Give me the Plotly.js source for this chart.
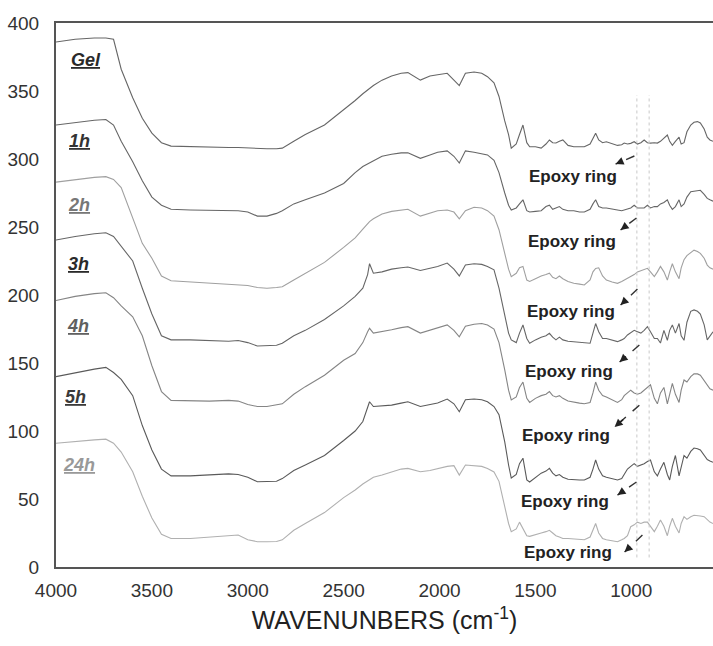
<!DOCTYPE html>
<html>
<head>
<meta charset="utf-8">
<script src="https://cdn.plot.ly/plotly-3.0.1.min.js"></script>
<style>html,body{margin:0;padding:0;background:#fff;}#chart{width:713px;height:646px;}</style>
</head>
<body>
<div id="chart"></div>
<script>
// Wavenumber grid (cm-1)
const wavenumbers = [4000,3900,3800,3740,3700,3660,3600,3550,3500,3450,
 3400,3300,3200,3100,3050,3000,2950,2900,2850,2820,
 2760,2700,2600,2500,2440,2400,2375,2365,2345,2300,
 2250,2200,2165,2100,2050,2010,1960,1925,1897,1865,
 1820,1780,1750,1716,1690,1660,1640,1626,1600,1583,
 1565,1545,1530,1500,1470,1445,1427,1410,1393,1375,
 1357,1330,1300,1270,1245,1215,1200,1186,1170,1150,
 1130,1100,1072,1050,1037,1020,1003,985,968,950,
 933,916,900,880,864,848,830,812,800,786,
 770,751,740,725,710,690,673,655,640,620,
 604,590,574];

const gel = [386,388,389,389,388,366,345,330,319,312,
 309.5,309,309,308.5,308.5,308,307.5,307.5,307.5,308,
 313,318,325,336,343,348,351,352,354,358,
 361,363,363.5,358,361,362,363,358,354,363,
 364,363,360.5,356,346,328,318,308,311,318,
 325,312,309,309,308,311,314,312,311.8,313,
 314,310,309,309,309,311,315,319,314,312,
 312.7,311,310,310.5,311.7,311,311.5,312.7,311,312,
 314,312,311.7,312,311.7,313,315,317.6,313,310,
 313,316,311,312,320,325,327,327.5,326.5,322,
 316,314,313];

const h1 = [325,327,328.5,329,325,313,298,284,272,266,
 263,262.5,262.5,262.5,262,261,258,258,260,262,
 267,270,275,282,290,294.5,296.5,297,299,302,
 303.5,304.5,304.6,300.5,303,305,306,302,297,306,
 305,304,303,299,290,275,266,262.5,264,267,
 270,262,261,261.5,262,265,266,263,264,265,
 263,262,262,261,261,263,267,270,265,264,
 264,263,262.5,262,262.5,263,264,266,264,264,
 264,266,264,265,265,267,268,270,266,263,
 265,270,265,267,272,276,276.5,277,277,274,
 271,270,269];

const h2 = [283,285,286.5,287,285,279,257,238,227,214,
 210.5,209.5,208.5,208,207.5,207,205.5,205,205.5,206,
 211,216,224,235,242,248.5,252,254,256,259.5,
 261.5,262.5,263,258,260.5,262,262.5,261,256,262,
 264.5,264,262,258,248,230,219,213.5,216,220,
 221,211,210,212,214,215,216,213,212,214,
 212,210,208.6,208,207.4,211,217,219.5,220,214,
 211,209.5,208.6,210,211,212,213.5,215,217,218,
 219,219.6,217,213.5,217,221,217,211,217,223,
 217,212,220,226,229,231,233,232,230.6,227,
 222,220,219];

const h3 = [240.4,243,245,245.8,243,236,225,205,186,170,
 167,167,166.5,166,166.5,165,162.5,162.5,163,164.5,
 170,174,182,192,199,205,215,223,216,217,
 219,220,220.6,218,219.5,221,223.5,219,214,222,
 223,222.5,221,218.5,205,185,172,167,165,172,
 178,168,164.5,167,169,170,171.8,169,167,169,
 167,166,165.7,165.5,165,164.5,172,179,173,168,
 168,167,165.7,167,168,170.6,172,174,173,172,
 174,176.7,173,168,168,164.7,174,166.7,174,178,
 172,179,170,166.7,180,188,189,188,186,178,
 167,170,173];

const h4 = [196,199,201,201.7,198,192,184,170,148,129,
 122.5,122,122,122.5,122,119.5,118,118,119,120,
 127,132.6,141,152,157,165,173,175.5,172,173,
 174.5,176,176.7,172,174,175.5,178,174,169.3,177,
 178.5,179,178,175,165,145,130,122.8,125,132,
 136,124,121,124,126,127,129,126,125,126,
 124,122,121,120.5,120,121,128,136,130,126,
 125,123,121,123,126,128,130,128,127,128,
 130,132,134,124,120,128,132,120,126,135,
 127,121,130,137.5,136,140,142,142,141,137,
 133,131,130];

const h5 = [140,143,145.5,146.8,143,138,126,104,86,72,
 67,67,67.5,68.5,68,66,62.7,62.7,63,65,
 71,75,82,93,100,107,118,121.5,118,118.3,
 119,120.5,121.5,118,119.5,120.6,123.5,120,114.2,123,
 123.5,123,121.5,118,112,92,75,65.4,68,76,
 80,64,62.5,66,69,70.5,72.5,69,67,68,
 66,64.5,64,64,64,66,72,78.7,72,67,
 66,65,64,65,68,72,74,76,74,75,
 76,77.5,78.7,70,67,72,77,68,64,74,
 82,67,74,82,80,85,87.5,87,86,82,
 79,78,77];

const h24 = [91,92.5,93.5,94,91,84.5,70,52,36,24,
 21,21,22,23,23.5,20,18.6,18.6,18.8,20,
 27,32,40,51,56.6,61,63.5,64.5,66,67.6,
 70,72,72.5,70,71,72.5,74,74.5,67.6,75,
 74.5,74,72.5,69.9,63,45,32,26,28,33,
 28,23,22.5,24,25,26,27,25,23,22,
 21,21,20.5,20,20,22,28,32,25,21,
 20,19.5,18.6,20,21,23,29.6,31,33,32,
 33,33,30,26,30,34.6,30,23,30,35.8,
 30,25,32,37,35,37,38,38,37.5,37,
 35,33,32];

const seriesNames = ['Gel','1h','2h','3h','4h','5h','24h'];
const seriesValues = [gel,h1,h2,h3,h4,h5,h24];
const lineColors = ['#666666','#666666','#a0a0a0','#666666','#858585','#5a5a5a','#b0b0b0'];
const labelColors = ['#2a2a2a','#333333','#777777','#2a2a2a','#606060','#3a3a3a','#999999'];
const labelX = [3844,3875,3881,3881,3886,3896,3881];
const labelY = [372.8,313,266,222.8,177,125,75];

const epoxyText = 'Epoxy ring';
const epoxyX = [1305,1310,1316,1326,1342,1347,1331];
const epoxyY = [286.8,239.7,188.2,144.1,97,48.5,10.3];
const arrowHeadX = [1082,1056,1056,1061,1087,1072,1035];
const arrowHeadY = [296.3,247.8,192.6,150.7,102.9,52.9,11];
const arrowTailX = [984,973,968,958,958,973,942];
const arrowTailY = [302.2,256.6,204.4,163.2,119,62.5,23.5];

const markerLinesX = [971,907];
const markerLinesY = [7,347];

const xTicks = [4000,3500,3000,2500,2000,1500,1000];
const xTitle = 'WAVENUNBERS (cm<sup>-1</sup>)';

const FONT = 'Liberation Sans, Arial, sans-serif';

const traces = seriesValues.map((ys,i)=>({
  type:'scatter', mode:'lines', x:wavenumbers, y:ys, name:seriesNames[i],
  line:{color:lineColors[i], width:1.1}, hoverinfo:'skip'
}));

const annotations = [];
seriesNames.forEach((n,i)=>{
  annotations.push({x:labelX[i], y:labelY[i], xref:'x', yref:'y', showarrow:false,
    text:'<b><i><u>'+n+'</u></i></b>', font:{family:FONT, size:18, color:labelColors[i]}});
});
epoxyX.forEach((x,i)=>{
  annotations.push({x:x, y:epoxyY[i], xref:'x', yref:'y', showarrow:false,
    text:'<b>'+epoxyText+'</b>', font:{family:FONT, size:17, color:'#222'}});
  const f = 0.4;
  annotations.push({x:arrowHeadX[i], y:arrowHeadY[i], xref:'x', yref:'y',
    ax:arrowHeadX[i]+(arrowTailX[i]-arrowHeadX[i])*f, ay:arrowHeadY[i]+(arrowTailY[i]-arrowHeadY[i])*f,
    axref:'x', ayref:'y', text:'', showarrow:true, arrowhead:2, arrowsize:1, arrowwidth:1.6,
    arrowcolor:'#222', standoff:0, startstandoff:0});
});

const shapes = [];
markerLinesX.forEach(x=>{
  shapes.push({type:'line', xref:'x', yref:'y', x0:x, x1:x, y0:markerLinesY[0], y1:markerLinesY[1],
    line:{color:'#c8c8c8', width:1, dash:'dot'}});
});
epoxyX.forEach((_,i)=>{
  shapes.push({type:'line', xref:'x', yref:'y', x0:arrowTailX[i], y0:arrowTailY[i],
    x1:arrowHeadX[i], y1:arrowHeadY[i], line:{color:'#333', width:1.4, dash:'dash'}});
});

const layout = {
  width:713, height:646,
  margin:{l:56, r:0, t:23, b:79},
  paper_bgcolor:'#fff', plot_bgcolor:'#fff',
  showlegend:false,
  font:{family:FONT, color:'#333'},
  xaxis:{range:[4000,574], tickvals:xTicks, ticktext:xTicks.map(String),
    showline:true, linecolor:'#555', linewidth:2, mirror:true,
    showgrid:false, zeroline:false, ticks:'', ticklabelstandoff:5,
    tickfont:{family:FONT, size:19, color:'#333'},
    title:{text:xTitle, font:{family:FONT, size:25, color:'#222'}, standoff:12}},
  yaxis:{range:[0,400], dtick:50, tick0:0,
    showline:true, linecolor:'#555', linewidth:2,
    showgrid:false, zeroline:false, ticks:'', ticklabelstandoff:11,
    tickfont:{family:FONT, size:19, color:'#333'}},
  annotations:annotations,
  shapes:shapes
};

Plotly.newPlot('chart', traces, layout, {staticPlot:true, displayModeBar:false});
</script>
</body>
</html>
